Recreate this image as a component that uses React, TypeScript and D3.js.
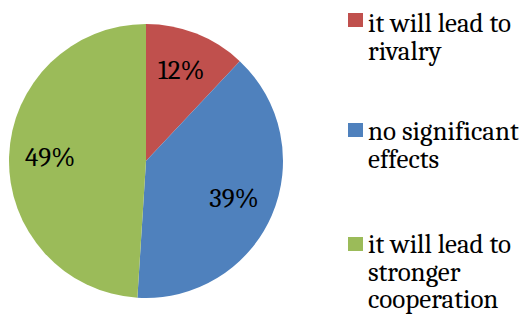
import { useEffect, useRef } from "react";
import * as d3 from "d3";

const categories = ["it will lead to rivalry", "no significant effects", "it will lead to stronger cooperation"];
const values = [12, 39, 49];
const colors = ["#C0504D", "#4F81BD", "#9BBB59"];
// legend text broken into lines like the original
const legendLines = [["it will lead to", "rivalry"], ["no significant", "effects"], ["it will lead to", "stronger", "cooperation"]];

export default function App() {
    const ref = useRef<SVGSVGElement>(null);

    useEffect(() => {
        const svg = d3.select(ref.current);
        svg.selectAll("*").remove();

        const cx = 146, cy = 161, radius = 137;
        const font = "Cambria, Caladea, 'DejaVu Serif', serif";

        const pie = d3.pie<number>().sort(null).value(d => d);
        const arc = d3.arc<d3.PieArcDatum<number>>().innerRadius(0).outerRadius(radius);
        const labelArc = d3.arc<d3.PieArcDatum<number>>().innerRadius(radius * 0.7).outerRadius(radius * 0.7);

        const g = svg.append("g").attr("transform", `translate(${cx},${cy})`);
        const arcs = pie(values);

        g.selectAll("path")
            .data(arcs)
            .enter().append("path")
            .attr("d", arc)
            .attr("fill", (d, i) => colors[i]);

        g.selectAll("text")
            .data(arcs)
            .enter().append("text")
            .attr("transform", d => `translate(${labelArc.centroid(d)})`)
            .attr("text-anchor", "middle")
            .attr("dy", "0.28em")
            .attr("font-family", font)
            .attr("font-size", 27)
            .attr("fill", "#000")
            .text(d => `${d.data}%`);

        // Legend
        const squareTops = [13, 123, 237];
        const baselines = [32, 140, 253];
        const lineGap = 27.5;
        const legend = svg.append("g");
        categories.forEach((c, i) => {
            legend.append("rect")
                .attr("x", 348).attr("y", squareTops[i])
                .attr("width", 15).attr("height", 14)
                .attr("fill", colors[i]);
            const t = legend.append("text")
                .attr("font-family", font)
                .attr("font-size", 27)
                .attr("fill", "#000");
            legendLines[i].forEach((line, j) => {
                t.append("tspan")
                    .attr("x", 368)
                    .attr("y", baselines[i] + j * lineGap)
                    .text(line);
            });
        });
    }, []);

    return (
        <svg ref={ref} width={526} height={316} style={{ position: "absolute", left: 0, top: 0, background: "#fff" }}></svg>
    );
}
